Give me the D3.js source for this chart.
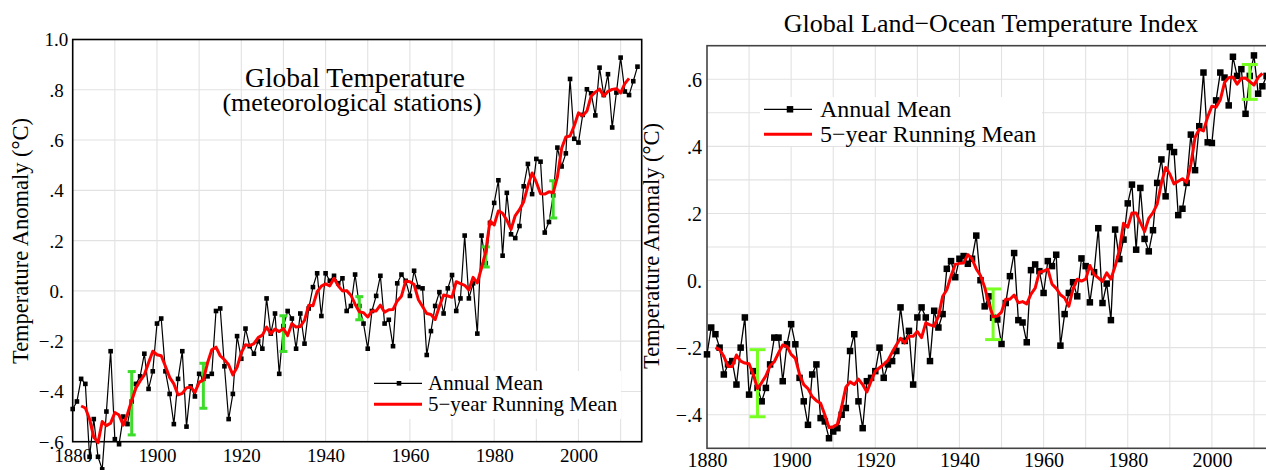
<!DOCTYPE html>
<html><head><meta charset="utf-8">
<script src="https://cdn.jsdelivr.net/npm/d3@7"></script>
<style>
body{margin:0;background:#fff;}
svg{display:block;font-family:"Liberation Serif","Times New Roman",serif;}
svg text{font-family:"Liberation Serif","Times New Roman",serif !important;fill:#000;}
</style>
</head><body>
<svg id="c" width="1266" height="470"></svg>
<script>
// ---------------- DATA ----------------
const firstYear = 1880;
// Meteorological stations, annual mean anomaly (°C), 1880..2014
const stationAnnual = [
 -0.47,-0.44,-0.35,-0.37,-0.66,-0.51,-0.66,-0.71,-0.48,-0.24,
 -0.59,-0.61,-0.50,-0.53,-0.44,-0.37,-0.34,-0.25,-0.39,-0.32,
 -0.13,-0.11,-0.32,-0.41,-0.53,-0.35,-0.24,-0.54,-0.38,-0.42,
 -0.33,-0.35,-0.34,-0.33,-0.08,-0.07,-0.30,-0.51,-0.41,-0.18,
 -0.27,-0.15,-0.22,-0.25,-0.20,-0.23,-0.03,-0.17,-0.09,-0.33,
 -0.14,-0.08,-0.11,-0.23,-0.09,-0.21,-0.07,0.015,0.07,-0.10,
 0.07,0.04,0.06,0.03,0.05,-0.08,-0.06,0.065,-0.06,-0.13,
 -0.23,-0.08,-0.02,0.06,-0.13,-0.115,-0.22,0.03,0.065,0.04,
 -0.02,0.08,0.015,0.01,-0.255,-0.16,-0.06,-0.005,-0.09,0.01,
 0.063,-0.08,-0.03,0.22,-0.03,0.03,-0.17,0.22,0.11,0.27,
 0.35,0.44,0.14,0.39,0.225,0.21,0.258,0.416,0.505,0.385,
 0.525,0.514,0.232,0.274,0.38,0.57,0.495,0.547,0.843,0.605,
 0.59,0.70,0.802,0.786,0.698,0.888,0.779,0.862,0.65,0.789,
 0.928,0.793,0.779,0.834,0.892
];
// Land-ocean index, annual mean anomaly (°C), 1880..2014
const landOceanAnnual = [
 -0.22,-0.14,-0.16,-0.20,-0.28,-0.25,-0.24,-0.31,-0.20,-0.11,
 -0.34,-0.27,-0.32,-0.36,-0.32,-0.25,-0.17,-0.17,-0.30,-0.19,
 -0.13,-0.19,-0.29,-0.36,-0.43,-0.28,-0.25,-0.41,-0.42,-0.47,
 -0.45,-0.44,-0.40,-0.38,-0.21,-0.16,-0.36,-0.44,-0.30,-0.29,
 -0.27,-0.20,-0.29,-0.25,-0.24,-0.21,-0.08,-0.18,-0.15,-0.31,
 -0.11,-0.08,-0.11,-0.24,-0.09,-0.14,-0.10,0.035,0.058,0.01,
 0.065,0.073,0.05,0.065,0.134,0.001,-0.077,-0.047,-0.111,-0.116,
 -0.189,-0.067,0.013,0.082,-0.118,-0.125,-0.184,0.031,0.048,0.028,
 -0.037,0.058,0.043,0.077,-0.194,-0.10,-0.037,-0.005,-0.047,0.066,
 0.043,-0.065,0.025,0.156,-0.067,-0.009,-0.118,0.152,0.064,0.122,
 0.23,0.286,0.092,0.276,0.124,0.087,0.15,0.291,0.361,0.251,
 0.398,0.383,0.195,0.214,0.291,0.435,0.329,0.46,0.62,0.412,
 0.41,0.537,0.62,0.605,0.522,0.667,0.61,0.63,0.497,0.61,
 0.671,0.557,0.579,0.61,0.67
];
// uncertainty bars
const stationErrYears = [1894, 1911, 1930, 1948, 1978, 1994];
const stationErrLow   = [-0.573, -0.467, -0.241, -0.115, 0.095, 0.29];
const stationErrHigh  = [-0.321, -0.288, -0.099, -0.023, 0.175, 0.438];
const landOceanErrYears = [1892, 1948, 2009];
const landOceanErrLow   = [-0.406, -0.176, 0.54];
const landOceanErrHigh  = [-0.206, -0.025, 0.644];
// ticks
const xTickYears = [1880, 1900, 1920, 1940, 1960, 1980, 2000];
const xGridYears = [1890, 1900, 1910, 1920, 1930, 1940, 1950, 1960, 1970, 1980, 1990, 2000, 2010];
const stationYTicks = [1.0, 0.8, 0.6, 0.4, 0.2, 0, -0.2, -0.4, -0.6];
const stationYTickLabels = ["1.0", ".8", ".6", ".4", ".2", "0.", "\u2212.2", "\u2212.4", "\u2212.6"];
const landOceanYTicks = [0.6, 0.4, 0.2, 0, -0.2, -0.4];
const landOceanYTickLabels = [".6", ".4", ".2", "0.", "\u2212.2", "\u2212.4"];
const landOceanYGrid = [0.6, 0.5, 0.4, 0.3, 0.2, 0.1, 0, -0.1, -0.2, -0.3, -0.4];
const legendLabels = ["Annual Mean", "5\u2212year Running Mean"];
const yAxisTitle = "Temperature Anomaly (\u00B0C)";

// ---------------- DRAW ----------------
const FONT = '"Liberation Serif","Times New Roman",serif';
const svg = d3.select("#c");
svg.append("rect").attr("width", 1266).attr("height", 470).attr("fill", "#fff");

function runningMean(vals) {
  return vals.map((v, i) => (i < 2 || i > vals.length - 3) ? null : d3.mean(vals.slice(i - 2, i + 3)));
}

function panel(c) {
  const g = svg.append("g");
  const x = d3.scaleLinear().domain([1880, 2015]).range(c.xr);
  const y = d3.scaleLinear().domain(c.yd).range(c.yr);
  const [x0, x1] = c.xr, [yb, yt] = c.yr;

  // grid
  g.append("g").selectAll("line").data(xGridYears).join("line")
    .attr("x1", d => x(d)).attr("x2", d => x(d)).attr("y1", yt).attr("y2", yb)
    .attr("stroke", "#e2e2e2").attr("stroke-width", 1.1);
  g.append("g").selectAll("line").data(c.hGrid).join("line")
    .attr("x1", x0).attr("x2", x1).attr("y1", d => y(d)).attr("y2", d => y(d))
    .attr("stroke", "#e2e2e2").attr("stroke-width", 1.1);

  // axes (labels only)
  const ya = g.append("g").attr("transform", `translate(${x0},0)`)
    .call(d3.axisLeft(y).tickValues(c.yTicks).tickSize(0).tickPadding(c.yPad)
      .tickFormat((d, i) => c.yLabels[i]));
  ya.attr("font-family", null);
  ya.select(".domain").remove();
  ya.selectAll("text").style("font-family", FONT).attr("font-size", c.tickFont)
    .attr("dy", "0.34em")
    .attr("dx", (d, i) => c.yLabels[i] === "1.0" ? 4.5 : 0);
  const xa = g.append("g").attr("transform", `translate(0,${yb})`)
    .call(d3.axisBottom(x).tickValues(xTickYears).tickSize(0).tickPadding(c.xPad).tickFormat(d3.format("d")));
  xa.attr("font-family", null);
  xa.select(".domain").remove();
  xa.selectAll("text").style("font-family", FONT).attr("font-size", c.tickFont);

  // frame
  g.append("rect").attr("x", x0).attr("y", yt).attr("width", x1 - x0).attr("height", yb - yt)
    .attr("fill", "none").attr("stroke", c.frame).attr("stroke-width", 1.6);

  // y title
  g.append("text").attr("transform", `translate(${c.yTitleX},${c.yTitleY}) rotate(-90)`)
    .attr("text-anchor", "middle").attr("font-size", 22.5).style("font-family", FONT).text(yAxisTitle);

  // legend
  const L = c.legend;
  g.append("rect").attr("x", L.bx).attr("y", L.by).attr("width", L.bw).attr("height", L.bh).attr("fill", "#fff");
  g.append("line").attr("x1", L.lx0).attr("x2", L.lx1).attr("y1", L.y1).attr("y2", L.y1)
    .attr("stroke", "#000").attr("stroke-width", c.blackW);
  g.append("rect").attr("x", L.mx - c.ms / 2).attr("y", L.y1 - c.ms / 2).attr("width", c.ms).attr("height", c.ms).attr("fill", "#000");
  g.append("line").attr("x1", L.lx0).attr("x2", L.lx1).attr("y1", L.y2).attr("y2", L.y2)
    .attr("stroke", "#f00").attr("stroke-width", 3);
  g.append("text").attr("x", L.tx).attr("y", L.y1 + L.tdy).attr("font-size", L.font).style("font-family", FONT).text(legendLabels[0]);
  g.append("text").attr("x", L.tx).attr("y", L.y2 + L.tdy).attr("font-size", L.font).style("font-family", FONT).text(legendLabels[1]);

  // data
  const pts = c.vals.map((v, i) => ({ yr: firstYear + i, v }));
  g.append("path").datum(pts)
    .attr("d", d3.line().x(d => x(d.yr)).y(d => y(d.v)))
    .attr("fill", "none").attr("stroke", "#000").attr("stroke-width", c.blackW);
  g.append("g").selectAll("rect").data(pts).join("rect")
    .attr("x", d => x(d.yr) - c.ms / 2).attr("y", d => y(d.v) - c.ms / 2)
    .attr("width", c.ms).attr("height", c.ms).attr("fill", "#000");

  // error bars
  const eb = g.append("g").attr("stroke", c.green).attr("stroke-width", 3).attr("fill", "none");
  c.errYears.forEach((yr, i) => {
    const cx = x(yr), lo = y(c.errLow[i]), hi = y(c.errHigh[i]);
    eb.append("line").attr("x1", cx).attr("x2", cx).attr("y1", lo).attr("y2", hi);
    eb.append("line").attr("x1", cx - c.cap).attr("x2", cx + c.cap).attr("y1", lo).attr("y2", lo);
    eb.append("line").attr("x1", cx - c.cap).attr("x2", cx + c.cap).attr("y1", hi).attr("y2", hi);
  });

  // running mean
  const rm = runningMean(c.vals).map((v, i) => ({ yr: firstYear + i, v })).filter(d => d.v !== null);
  g.append("path").datum(rm)
    .attr("d", d3.line().x(d => x(d.yr)).y(d => y(d.v)))
    .attr("fill", "none").attr("stroke", "#f00").attr("stroke-width", 3).attr("stroke-linejoin", "round");

  // titles
  c.titles.forEach(t => {
    g.append("text").attr("x", t.x).attr("y", t.y).attr("text-anchor", "middle")
      .attr("font-size", t.size).style("font-family", FONT).text(t.text);
  });
}

panel({
  xr: [72.7, 641.7], yd: [-0.6, 1.0], yr: [441.7, 39.5],
  hGrid: stationYTicks, yTicks: stationYTicks, yLabels: stationYTickLabels,
  yPad: 9, xPad: 6.5, tickFont: 19, frame: "#000",
  yTitleX: 28, yTitleY: 241,
  vals: stationAnnual, ms: 4.6, blackW: 1.2,
  errYears: stationErrYears, errLow: stationErrLow, errHigh: stationErrHigh,
  green: "#3ddc2a", cap: 4,
  legend: { bx: 369, by: 371, bw: 252, bh: 48, lx0: 374, lx1: 422, mx: 399, y1: 383.3, y2: 404.3,
            tx: 428, tdy: 6.3, font: 21 },
  titles: [
    { text: "Global Temperature", x: 355, y: 86.5, size: 27.5 },
    { text: "(meteorological stations)", x: 352, y: 111, size: 26 }
  ]
});

panel({
  xr: [707, 1275], yd: [-0.5, 0.7], yr: [448.3, 45.7],
  hGrid: landOceanYGrid, yTicks: landOceanYTicks, yLabels: landOceanYTickLabels,
  yPad: 5, xPad: 4.5, tickFont: 20, frame: "#444",
  yTitleX: 659, yTitleY: 246,
  vals: landOceanAnnual, ms: 6.5, blackW: 1.3,
  errYears: landOceanErrYears, errLow: landOceanErrLow, errHigh: landOceanErrHigh,
  green: "#77ff22", cap: 8,
  legend: { bx: 760, by: 97, bw: 282, bh: 49, lx0: 764, lx1: 812, mx: 790, y1: 109.3, y2: 134.3,
            tx: 820, tdy: 7.4, font: 24 },
  titles: [
    { text: "Global Land\u2212Ocean Temperature Index", x: 991, y: 32, size: 26 }
  ]
});
</script>
</body></html>
